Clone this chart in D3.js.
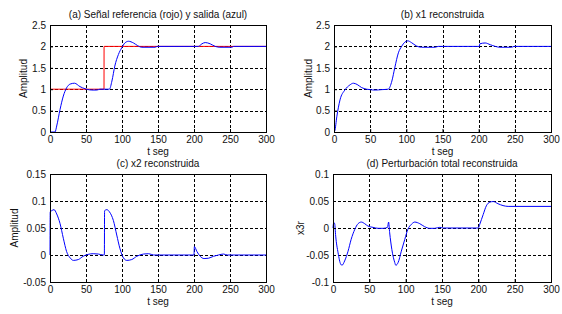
<!DOCTYPE html>
<html lang="es">
<head>
<meta charset="UTF-8">
<title>Respuesta del sistema</title>
<script src="https://cdn.jsdelivr.net/npm/d3@7"></script>
<style>
    body { margin: 0; background: #fff; }
    text { font-family: "Liberation Sans", Arial, sans-serif; fill: #111; }
</style>
</head>
<body>
<svg width="562" height="314"></svg>
<script>
    // ticks
    var tTicks = [0, 50, 100, 150, 200, 250, 300]
    var ampTicks = [0, 0.5, 1, 1.5, 2, 2.5]
    var x2Ticks = [-0.05, 0, 0.05, 0.1, 0.15]
    var x3Ticks = [-0.1, -0.05, 0, 0.05, 0.1]

    // series [t, valor]
    var refSignal = [[0, 1], [75, 1], [75.1, 2], [300, 2]]
    var outSignal = [[0, 0], [7, 0], [9.3, 0.14], [14, 0.53], [18.5, 0.84], [23, 1.03], [28, 1.12], [34, 1.14],
        [41.7, 1.06], [48.7, 1.01], [55, 0.985], [58, 0.98], [65, 0.98], [69.5, 1.0], [82.5, 1.0], [86, 1.19],
        [90, 1.54], [95, 1.81], [99.7, 1.97], [104, 2.08], [109, 2.12], [116, 2.08], [121.5, 2.02], [127.5, 1.98],
        [146, 1.98], [149, 2.0], [206, 2.0], [211, 2.06], [215.6, 2.09], [222.5, 2.06], [229.5, 2.0], [236, 1.98],
        [252.7, 1.98], [255, 2.0], [300, 2.0]]
    var x1Signal = [[0, 0], [1, 0.02], [4, 0.37], [8.3, 0.75], [15, 0.98], [22, 1.1], [26.7, 1.14], [32, 1.11],
        [38, 1.04], [45, 1.0], [50, 0.99], [57, 0.98], [66, 0.99], [75, 1.0], [80, 1.19], [84, 1.5], [89, 1.85],
        [93.5, 2.0], [98, 2.1], [102, 2.13], [107, 2.09], [114, 2.01], [121, 1.98], [140, 1.98], [144, 2.0],
        [201, 2.0], [201.5, 2.06], [209, 2.08], [216, 2.04], [223, 2.0], [229.5, 1.98], [245.6, 1.98], [249, 2.0],
        [300, 2.0]]
    var x2Signal = [[0, 0], [0.3, 0.08], [2.3, 0.082], [5.6, 0.084], [9.3, 0.076], [14, 0.058], [18.5, 0.031],
        [23, 0.0066], [28, -0.0054], [32.5, -0.010], [39.4, -0.0084], [46, -0.0024], [53, 0.0012], [60, 0.0024],
        [67, 0.0018], [74, 0], [75.5, 0], [75.8, 0.082], [79, 0.084], [82.5, 0.08], [88, 0.064], [92.7, 0.037],
        [97, 0.0126], [102, -0.0054], [106.6, -0.010], [113.6, -0.0084], [120.5, -0.0024], [130, 0.0018],
        [137, 0.0024], [144, 0], [200, 0], [200.5, 0.0156], [204, 0.0066], [208.6, -0.0024], [214, -0.0066],
        [220, -0.006], [227, -0.0024], [234, 0], [241, 0.0018], [246, 0], [300, 0]]
    var x3Signal = [[0, 0], [1, 0.01], [2.3, 0.008], [3.7, -0.015], [7, -0.046], [10.6, -0.067], [12.4, -0.069],
        [16, -0.061], [20.7, -0.043], [25, -0.021], [30, -0.0025], [34.5, 0.008], [39, 0.011], [43.6, 0.008],
        [48, 0.0037], [55, 0.0012], [62, -0.0006], [69, -0.0006], [75, 0.0012], [76.5, 0.011], [78, -0.009],
        [81, -0.04], [85, -0.064], [86.4, -0.069], [89.6, -0.064], [94, -0.043], [98.8, -0.021], [103, -0.0025],
        [108, 0.007], [112.5, 0.011], [119.4, 0.008], [126, 0.0025], [133, -0.0006], [140, -0.0006], [147, 0.0012],
        [152, 0], [200, 0], [202, 0.007], [206.7, 0.025], [211, 0.041], [216, 0.048], [220.5, 0.049], [227, 0.045],
        [234, 0.0415], [241, 0.040], [300, 0.040]]

    var svg = d3.select('svg')

    var panels = [
        { box: [50, 266, 25, 132], yTicks: ampTicks, title: '(a) Señal referencia (rojo) y salida (azul)', ylab: 'Amplitud', ylabX: 23,
          lines: [{ d: refSignal, c: '#ff0000', curve: d3.curveLinear }, { d: outSignal, c: '#0000ff', curve: d3.curveMonotoneX }] },
        { box: [334, 551, 25, 132], yTicks: ampTicks, title: '(b) x1 reconstruida', ylab: 'Amplitud', ylabX: 308,
          lines: [{ d: x1Signal, c: '#0000ff', curve: d3.curveMonotoneX }] },
        { box: [50, 266, 174, 282], yTicks: x2Ticks, title: '(c) x2 reconstruida', ylab: 'Amplitud', ylabX: 14,
          lines: [{ d: x2Signal, c: '#0000ff', curve: d3.curveMonotoneX }] },
        { box: [333, 551, 174, 282], yTicks: x3Ticks, title: '(d) Perturbación total reconstruida', ylab: 'x3r', ylabX: 300,
          lines: [{ d: x3Signal, c: '#0000ff', curve: d3.curveMonotoneX }] }
    ]

    panels.forEach(function (p) {
        var x0 = p.box[0], x1 = p.box[1], y0 = p.box[2], y1 = p.box[3]
        var w = x1 - x0, h = y1 - y0
        var g = svg.append('g').attr('transform', 'translate(' + x0 + ',' + y0 + ')')

        var sx = d3.scaleLinear().domain([0, 300]).range([0, w])
        var sy = d3.scaleLinear().domain([p.yTicks[0], p.yTicks[p.yTicks.length - 1]]).range([h, 0])

        // rejilla punteada
        g.selectAll('.gx').data(tTicks.slice(1, -1)).enter().append('line')
            .attr('x1', function (d) { return Math.round(sx(d)) + 0.5 })
            .attr('x2', function (d) { return Math.round(sx(d)) + 0.5 })
            .attr('y1', 0).attr('y2', h)
            .attr('stroke', '#000').attr('stroke-dasharray', '3,2')
        g.selectAll('.gy').data(p.yTicks.slice(1, -1)).enter().append('line')
            .attr('y1', function (d) { return Math.round(sy(d)) + 0.5 })
            .attr('y2', function (d) { return Math.round(sy(d)) + 0.5 })
            .attr('x1', 0).attr('x2', w)
            .attr('stroke', '#000').attr('stroke-dasharray', '3,2')

        // curvas
        p.lines.forEach(function (l) {
            var line = d3.line()
                .x(function (d) { return sx(d[0]) })
                .y(function (d) { return sy(d[1]) })
                .curve(l.curve)
            g.append('path').datum(l.d)
                .attr('d', line)
                .attr('fill', 'none')
                .attr('stroke', l.c)
                .attr('stroke-width', 1)
        })

        // ejes
        var ax = d3.axisBottom(sx).tickValues(tTicks).tickSize(-3).tickPadding(4).tickFormat(d3.format('d'))
        var ay = d3.axisLeft(sy).tickValues(p.yTicks).tickSize(-3).tickPadding(4).tickFormat(function (d) { return String(+d.toFixed(3)) })
        var gx = g.append('g').attr('transform', 'translate(0,' + h + ')').call(ax)
        var gy = g.append('g').call(ay)
        ;[gx, gy].forEach(function (a) {
            a.select('.domain').remove()
            a.selectAll('text').attr('font-size', 10).attr('font-family', '"Liberation Sans", Arial, sans-serif').attr('fill', '#111')
            a.selectAll('line').attr('stroke', '#000')
        })

        g.append('rect').attr('x', 0.5).attr('y', 0.5).attr('width', w).attr('height', h)
            .attr('fill', 'none').attr('stroke', '#000')

        // textos
        svg.append('text').attr('x', x0 + w / 2).attr('y', y0 - 7)
            .attr('text-anchor', 'middle').attr('font-size', 10).text(p.title)
        svg.append('text').attr('x', x0 + w / 2).attr('y', y1 + 23)
            .attr('text-anchor', 'middle').attr('font-size', 10).text('t seg')
        svg.append('text').attr('transform', 'translate(' + p.ylabX + ',' + (y0 + h / 2) + ') rotate(-90)')
            .attr('text-anchor', 'middle').attr('dy', '0.35em').attr('font-size', 10).text(p.ylab)
    })
</script>
</body>
</html>
